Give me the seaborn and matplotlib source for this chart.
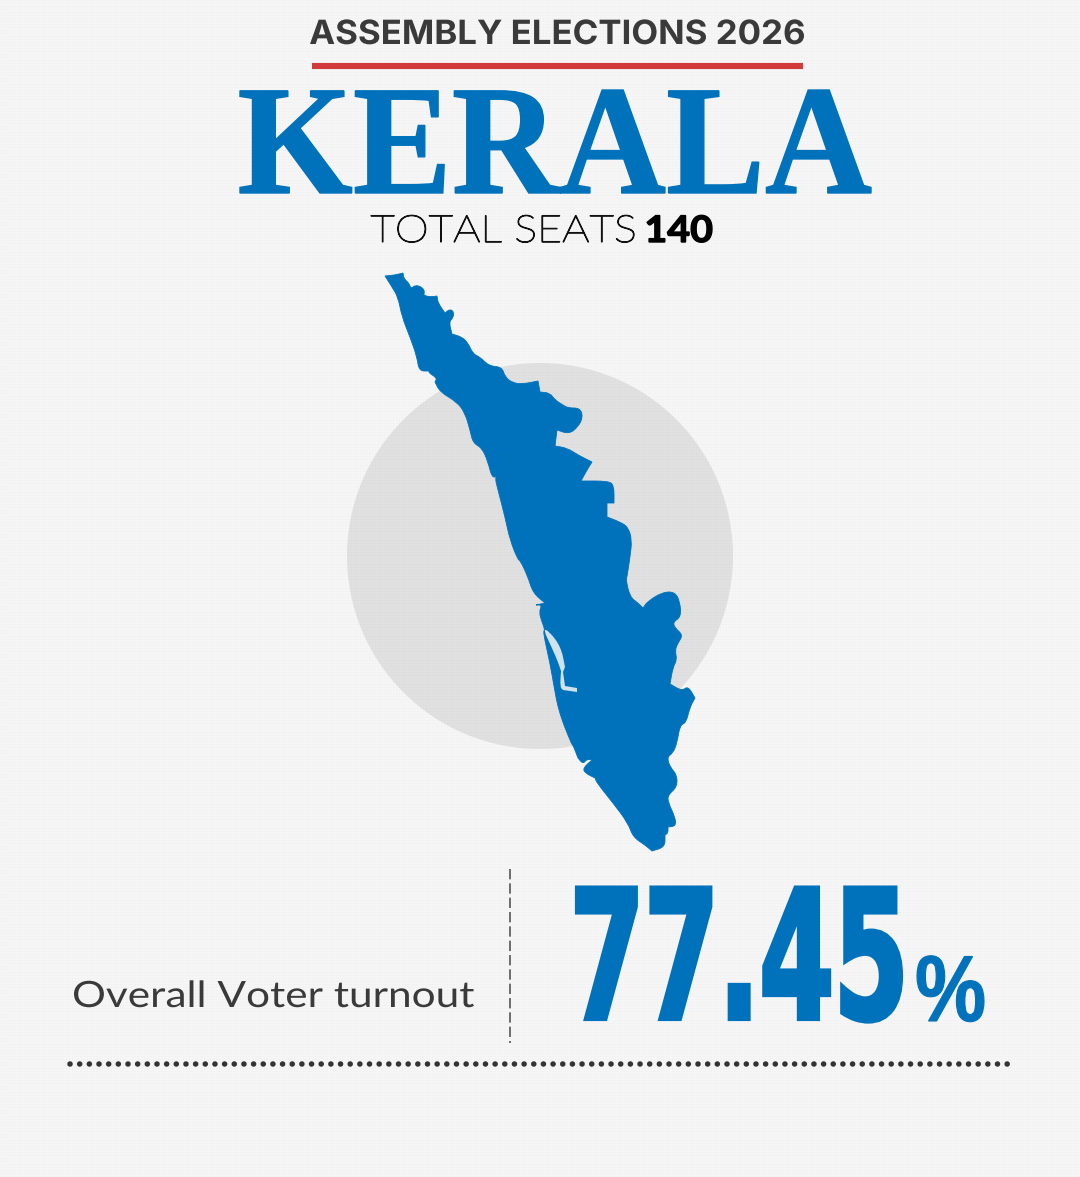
import matplotlib
matplotlib.use("Agg")
import matplotlib.pyplot as plt
import seaborn as sns
from matplotlib.font_manager import FontProperties
from matplotlib.patches import Circle, PathPatch
from matplotlib.path import Path
from matplotlib.patheffects import AbstractPathEffect
from matplotlib.textpath import TextPath
from matplotlib.transforms import Affine2D

state = "KERALA"
election_year = 2026
total_seats = 140
turnout = 77.45

blue = "#0072bc"
dark = "#3a3a3a"

# outline of the state (pixels)
map_x = [385, 395, 403, 404, 409, 411, 415, 422, 425, 423, 430, 437, 438, 445, 450, 454, 453, 449, 452, 462,
         468, 473, 480, 489, 502, 505, 513, 523, 538, 540, 550, 555, 563, 568, 580, 583, 578, 569, 557, 555,
         567, 578, 592, 587, 581, 608, 614, 614, 607, 607, 620, 628, 632, 630, 627, 626, 630, 638, 643, 648,
         663, 675, 680, 681, 673, 675, 683, 678, 675, 677, 673, 670, 682, 688, 695, 690, 686, 680, 677, 673,
         667, 670, 677, 677, 668, 668, 675, 676, 668, 668, 665, 665, 652, 645, 633, 628, 613, 597, 595, 585,
         583, 592, 587, 583, 578, 573, 572, 563, 558, 555, 550, 543, 545, 542, 539, 542, 536, 545, 533, 528,
         520, 518, 510, 505, 498, 495, 498, 492, 488, 482, 473, 470, 465, 457, 440, 435, 437, 429, 429, 419,
         417, 410, 402, 398, 392]
map_y = [276, 275, 273, 279, 283, 289, 285, 287, 292, 295, 297, 296, 303, 313, 309, 312, 318, 322, 334, 337,
         343, 354, 357, 366, 367, 377, 383, 384, 381, 392, 393, 400, 405, 408, 408, 417, 427, 434, 430, 446,
         448, 455, 462, 470, 481, 481, 485, 503, 503, 517, 522, 527, 540, 557, 577, 580, 597, 603, 608, 601,
         592, 592, 602, 617, 622, 628, 635, 643, 650, 660, 667, 684, 691, 686, 698, 707, 723, 725, 743, 753,
         757, 767, 775, 787, 795, 802, 817, 826, 827, 833, 835, 847, 851, 845, 837, 823, 803, 783, 778, 773,
         768, 760, 759, 764, 758, 745, 745, 723, 707, 692, 663, 632, 630, 622, 612, 605, 605, 603, 593, 577,
         560, 560, 540, 517, 490, 478, 476, 478, 462, 448, 443, 430, 413, 402, 392, 382, 378, 373, 371, 371,
         357, 337, 317, 297, 287]
# corners that stay sharp when the outline is rounded
map_corners = {(385, 276), (403, 273), (437, 296), (445, 313), (452, 334), (429, 371), (435, 382), (538, 381),
               (540, 392), (557, 430), (555, 446), (592, 462), (581, 481), (614, 503), (607, 503), (607, 517),
               (643, 608), (670, 684), (695, 698), (668, 827), (665, 835), (652, 851), (595, 778), (592, 760),
               (578, 758), (545, 603), (536, 605), (498, 476)}

lagoon_x = [543, 549, 561, 565, 563, 565, 577, 577, 563, 560, 561, 558, 552]
lagoon_y = [629, 631, 647, 667, 672, 686, 688, 692, 690, 687, 671, 662, 648]
lagoon_corners = {(565, 667), (563, 672), (565, 686), (577, 688), (577, 692), (563, 690), (561, 671)}


class Stretch(AbstractPathEffect):
    # real text, only narrowed or made taller when it is drawn
    def __init__(self, sx, sy, stroke=0):
        super().__init__()
        self.sx = sx
        self.sy = sy
        self.stroke = stroke

    def draw_path(self, renderer, gc, tpath, affine, rgbFace=None):
        gc0 = renderer.new_gc()
        gc0.copy_properties(gc)
        if self.stroke:
            gc0.set_linewidth(self.stroke)
            gc0.set_foreground(rgbFace)
            gc0.set_joinstyle("miter")
        renderer.draw_path(gc0, tpath, Affine2D().scale(self.sx, self.sy) + affine, rgbFace)
        gc0.restore()


def put_text(ax, s, left, right, top, base, family, weight="normal", color="k", stroke=0, fit=1):
    fp = FontProperties(family=family, weight=weight)
    box = TextPath((0, 0), s, size=100, prop=fp).get_extents()
    size = fit * min(100 * (base - top) / box.height, 100 * (right - left) / box.width)
    sx = (right - left) / (box.width * size / 100)
    sy = (base - top) / (box.height * size / 100)
    x = left - box.x0 * size / 100 * sx
    ax.text(x, base, s, fontproperties=fp, fontsize=size * 72 / 100, color=color,
            ha="left", va="baseline", path_effects=[Stretch(sx, sy, stroke)], zorder=5)


def smooth_outline(xs, ys, corners):
    # quadratic curves through the edge midpoints, the picked points are the control points
    pts = []
    for p in zip(xs, ys):
        pts.append(p)
        if p in corners:
            pts.append(p)
    mids = [((a[0] + b[0]) / 2, (a[1] + b[1]) / 2) for a, b in zip(pts, pts[1:] + pts[:1])]
    verts = [mids[-1]]
    codes = [Path.MOVETO]
    for p, m in zip(pts, mids):
        verts += [p, m]
        codes += [Path.CURVE3, Path.CURVE3]
    return Path(verts, codes)


sns.set_theme(style="white")
fig = plt.figure(figsize=(10.8, 11.77), dpi=100, facecolor="#f6f6f6")
ax = fig.add_axes([0, 0, 1, 1])
ax.set_facecolor("#f6f6f6")

ax.add_patch(Circle((540, 556), 193, color="#e1e1e1", lw=0, zorder=1))
# faint weave of the paper
ax.hlines(range(0, 1177, 3), 0, 1080, color="k", alpha=0.012, lw=0.8, zorder=1.5)
ax.vlines(range(0, 1080, 3), 0, 1177, color="k", alpha=0.008, lw=0.8, zorder=1.5)
ax.add_patch(PathPatch(smooth_outline(map_x, map_y, map_corners), color=blue, lw=0.6, zorder=2))
ax.add_patch(PathPatch(smooth_outline(lagoon_x, lagoon_y, lagoon_corners), color="#cfe2ee", lw=0, zorder=3))

sns.lineplot(x=[312, 803], y=[66, 66], color="#d2393b", linewidth=4.4, solid_capstyle="butt",
             estimator=None, sort=False, ax=ax)
sns.lineplot(x=[509.5, 509.5], y=[869, 1043], color="#555555", linewidth=1.2, linestyle=(0, (6.2, 2.4)),
             estimator=None, sort=False, ax=ax)
sns.lineplot(x=[70, 1008], y=[1064, 1064], color="#333333", linewidth=4, linestyle=(0, (0.01, 1.729)),
             dash_capstyle="round", estimator=None, sort=False, ax=ax)

put_text(ax, f"ASSEMBLY ELECTIONS {election_year}", 310, 804, 19, 44, "Inter", "bold", dark)
put_text(ax, state, 240, 871, 90, 193, "Liberation Serif", "bold", blue, stroke=1, fit=0.6)
put_text(ax, "TOTAL SEATS", 371, 634, 215, 242, "Lato", "light", "#111111", stroke=0.9)
put_text(ax, str(total_seats), 647, 712, 215, 242, "Lato", "bold", "#000000", stroke=1)
put_text(ax, "Overall Voter turnout", 74, 474, 980, 1007, "Lato", "normal", dark)
put_text(ax, f"{turnout:.2f}", 577, 901, 885, 1019, "DejaVu Sans", "bold", blue, stroke=3)
put_text(ax, "%", 917, 984, 955, 1021, "Liberation Sans", "bold", blue, stroke=0.8)

ax.set_xlim(0, 1080)
ax.set_ylim(1177, 0)
ax.axis("off")

fig.savefig("out.png", dpi=100, facecolor=fig.get_facecolor())
